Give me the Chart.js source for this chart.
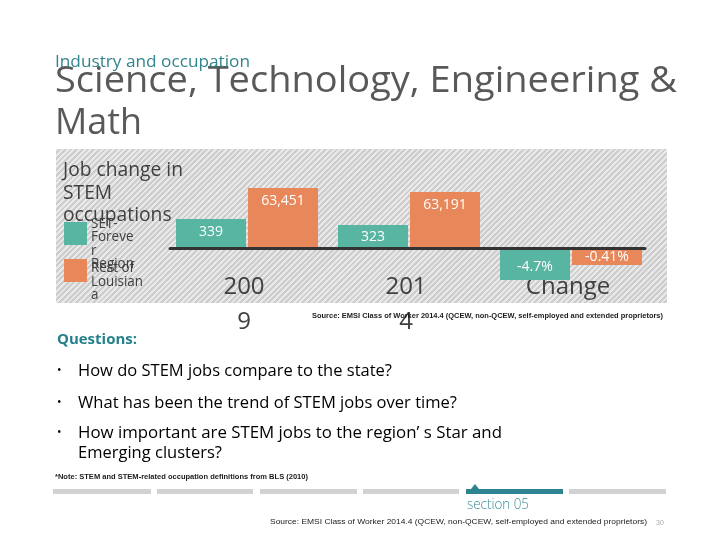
<!DOCTYPE html>
<html><head><meta charset="utf-8">
<script src="https://cdn.jsdelivr.net/npm/chart.js@4.4.1/dist/chart.umd.min.js"></script>
<style>
html,body{margin:0;padding:0;}
body{width:720px;height:540px;position:relative;overflow:hidden;background:#fff;font-family:'Open Sans',sans-serif;}
.a{position:absolute;white-space:nowrap;transform-origin:0 50%;}
#panel{position:absolute;left:56px;top:149px;width:611px;height:154px;background:repeating-linear-gradient(135deg,#e9e9e9 0 2px,#cdcdcd 2px 4px);}
#c{position:absolute;left:0;top:0;}
.nav{position:absolute;top:489px;height:5px;background:#d2d2d2;}
</style></head><body>
<div id="panel"></div>
<canvas id="c" width="720" height="540"></canvas>

<div class="a" data-w="622" style="left:55px;top:57px;font-size:37px;line-height:42px;color:#595959;">Science, Technology, Engineering &amp;</div>
<div class="a" data-w="87" style="left:55px;top:99px;font-size:37px;line-height:42px;color:#595959;">Math</div>
<div class="a" data-w="195" style="left:55px;top:51px;font-size:16px;line-height:20px;color:#31858c;">Industry and occupation</div>

<div id="ctitle" class="a" data-w="120" style="left:63px;top:157px;font-size:20.5px;line-height:22.5px;color:#404040;"></div>
<div id="legend"></div>

<div class="a" data-w="351" style="left:312px;top:311px;font-family:'Liberation Sans';font-weight:bold;font-size:7.5px;line-height:10px;color:#1a1a1a;" id="src1"></div>

<div class="a" data-w="80" style="left:57px;top:328px;font-size:15px;line-height:20px;font-weight:bold;color:#24818b;">Questions:</div>
<div id="bullets"></div>

<div class="a" data-w="253" style="left:55px;top:472px;font-family:'Liberation Sans';font-weight:bold;font-size:7.5px;line-height:10px;color:#1a1a1a;">*Note: STEM and STEM-related occupation definitions from BLS (2010)</div>

<div class="nav" style="left:53px;width:98px;"></div>
<div class="nav" style="left:157px;width:96px;"></div>
<div class="nav" style="left:260px;width:97px;"></div>
<div class="nav" style="left:363px;width:96px;"></div>
<div class="nav" style="left:466px;width:97px;background:#2e8391;"></div>
<div style="position:absolute;left:471px;top:484px;width:0;height:0;border-left:4px solid transparent;border-right:4px solid transparent;border-bottom:5px solid #2e8391;"></div>
<div class="nav" style="left:569px;width:97px;"></div>
<div class="a" data-w="62" style="left:467px;top:493px;font-size:15px;line-height:20px;color:#3a8e98;font-weight:300;">section 05</div>
<div class="a" data-w="377" style="left:270px;top:517px;font-family:'Liberation Sans';font-size:8px;line-height:10px;color:#1a1a1a;" id="src2"></div>
<div class="a" style="left:656px;top:518px;font-family:'Liberation Sans';font-size:7px;line-height:9px;color:#aaaaaa;">30</div>

<script>
// ---- data ----
const categories = ["2009", "2014", "Change"];
const tickLabels = [["200", "9"], ["201", "4"], "Change"];
const seriesNames = ["SET-Forever Region", "Rest of Louisiana"];
const legendLines = [["SET-", "Foreve", "r", "Region"], ["Rest of", "Louisian", "a"]];
const regionJobs = [339, 323];
const stateJobs = [63451, 63191];
const regionChange = -4.7;
const stateChange = -0.41;
const regionLabels = ["339", "323", "-4.7%"];
const stateLabels = ["63,451", "63,191", "-0.41%"];
const chartTitleLines = ["Job change in", "STEM", "occupations"];
const questions = [
  ["How do STEM jobs compare to the state?"],
  ["What has been the trend of STEM jobs over time?"],
  ["How important are STEM jobs to the region\u2019 s Star and", "Emerging clusters?"]
];
const sourceText = "Source: EMSI Class of Worker 2014.4 (QCEW, non-QCEW, self-employed and extended proprietors)";

const TEAL = '#57b5a1', ORANGE = '#e8885a';

// ---- text pieces ----
document.getElementById('src1').textContent = sourceText;
document.getElementById('src2').textContent = sourceText;
document.getElementById('ctitle').innerHTML = chartTitleLines.join('<br>');

const legend = document.getElementById('legend');
const legendColors = [TEAL, ORANGE];
const sqTop = [222, 259];
const txtTop = [215.5, 260];
const fitW = [43, 52];
seriesNames.forEach((name, i) => {
  const sq = document.createElement('div');
  sq.style.cssText = `position:absolute;left:64px;top:${sqTop[i]}px;width:23px;height:23px;background:${legendColors[i]};`;
  sq.title = name;
  legend.appendChild(sq);
  const t = document.createElement('div');
  t.className = 'a';
  t.dataset.w = fitW[i];
  t.style.cssText = `left:91px;top:${txtTop[i]}px;font-size:14.5px;line-height:13.6px;color:#404040;`;
  t.innerHTML = legendLines[i].join('<br>');
  legend.appendChild(t);
});

const bl = document.getElementById('bullets');
const qTop = [360, 392, 422];
const qW = [[314], [379], [424, 144]];
questions.forEach((q, i) => {
  const b = document.createElement('div');
  b.className = 'a';
  b.style.cssText = `left:57px;top:${qTop[i]}px;font-size:12px;line-height:20px;color:#000;`;
  b.textContent = '\u2022';
  bl.appendChild(b);
  q.forEach((line, j) => {
    const d = document.createElement('div');
    d.className = 'a';
    d.dataset.w = qW[i][j];
    d.style.cssText = `left:78px;top:${qTop[i] + j * 20}px;font-size:16.5px;line-height:20px;color:#000;`;
    d.textContent = line;
    bl.appendChild(d);
  });
});

function fit() {
  document.querySelectorAll('[data-w]').forEach(el => {
    el.style.transform = 'none';
    const w = el.getBoundingClientRect().width;
    if (w > 0) el.style.transform = `scaleX(${el.dataset.w / w})`;
  });
}
fit();
if (document.fonts && document.fonts.ready) document.fonts.ready.then(fit);

// ---- chart ----
const baseline = {
  id: 'baseline',
  afterDatasetsDraw(chart) {
    const {ctx, chartArea} = chart;
    const y = chart.scales.yC.getPixelForValue(0);
    ctx.save();
    ctx.strokeStyle = '#333333';
    ctx.lineWidth = 3;
    ctx.lineCap = 'round';
    ctx.beginPath();
    ctx.moveTo(chartArea.left + 4, y);
    ctx.lineTo(chartArea.right - 7, y);
    ctx.stroke();
    ctx.restore();
  }
};
const barLabels = {
  id: 'barLabels',
  afterDatasetsDraw(chart) {
    const {ctx} = chart;
    ctx.save();
    ctx.font = '400 14px "Open Sans"';
    ctx.fillStyle = '#ffffff';
    ctx.textAlign = 'center';
    ctx.textBaseline = 'middle';
    chart.data.datasets.forEach((ds, di) => {
      const meta = chart.getDatasetMeta(di);
      meta.data.forEach((bar, i) => {
        const v = ds.data[i];
        if (v === null || v === undefined) return;
        const p = bar.getProps(['x', 'y', 'base'], true);
        const h = Math.abs(p.base - p.y);
        const inset = Math.min(13, h / 2);
        const ty = p.y < p.base ? p.y + inset : p.y - inset;
        ctx.fillText(ds.valueLabels[i], p.x, ty);
      });
    });
    ctx.restore();
  }
};

new Chart(document.getElementById('c'), {
  type: 'bar',
  data: {
    labels: categories,
    datasets: [
      {label: seriesNames[0], data: [regionJobs[0], regionJobs[1], null], yAxisID: 'yA', base: 260.3,
       backgroundColor: TEAL, valueLabels: regionLabels, clip: false},
      {label: seriesNames[1], data: [stateJobs[0], stateJobs[1], null], yAxisID: 'yB', base: 59518,
       backgroundColor: ORANGE, valueLabels: stateLabels, clip: false},
      {label: seriesNames[0] + ' change', data: [null, null, regionChange], yAxisID: 'yC',
       backgroundColor: TEAL, valueLabels: regionLabels, clip: false},
      {label: seriesNames[1] + ' change', data: [null, null, stateChange], yAxisID: 'yD',
       backgroundColor: ORANGE, valueLabels: stateLabels, clip: false}
    ]
  },
  options: {
    responsive: false,
    animation: false,
    devicePixelRatio: 1,
    layout: {padding: {left: 166, right: 68, top: 170, bottom: 200.4}},
    datasets: {bar: {categoryPercentage: 0.889, barPercentage: 0.972, skipNull: true, borderWidth: 0}},
    plugins: {legend: {display: false}, tooltip: {enabled: false}, title: {display: false}},
    scales: {
      x: {
        grid: {display: false, drawTicks: false},
        border: {display: false},
        ticks: {
          padding: 0, color: '#404040', autoSkip: false, maxRotation: 0, minRotation: 0,
          labelOffset: -3,
          font: {family: 'Open Sans', size: 24, lineHeight: 1.45},
          callback: (v, i) => tickLabels[i]
        }
      },
      yA: {display: false, min: 203, max: 469.7},
      yB: {display: false, min: 58120, max: 64620},
      yC: {display: false, min: -3.21, max: 11.71},
      yD: {display: false, min: -0.534, max: 1.951}
    }
  },
  plugins: [baseline, barLabels]
});
</script>
</body></html>
